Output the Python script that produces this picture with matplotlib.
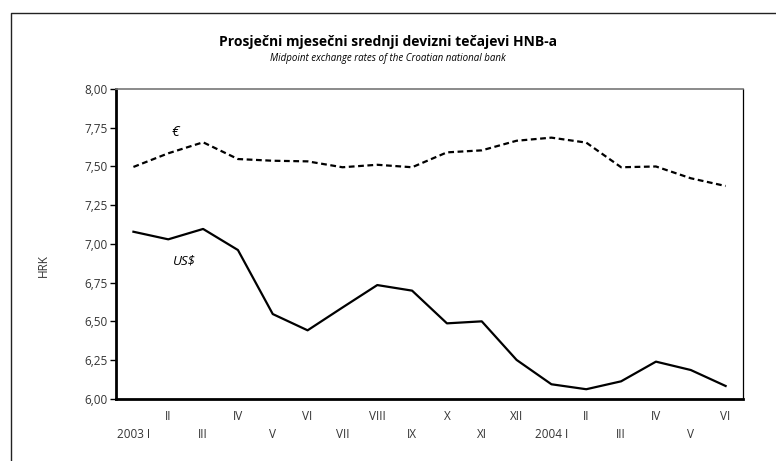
import numpy as np
import matplotlib.pyplot as plt
from matplotlib.lines import Line2D

# Podaci (mjesečni prosjeci, HRK)
months = ["2003 I", "II", "III", "IV", "V", "VI", "VII", "VIII", "IX",
          "X", "XI", "XII", "2004 I", "II", "III", "IV", "V", "VI"]
eur = [7.497, 7.585, 7.656, 7.548, 7.537, 7.533, 7.495, 7.511, 7.495,
       7.591, 7.604, 7.666, 7.686, 7.654, 7.495, 7.500, 7.424, 7.374]
usd = [7.079, 7.030, 7.097, 6.961, 6.548, 6.443, 6.590, 6.735, 6.699,
       6.488, 6.501, 6.252, 6.095, 6.063, 6.114, 6.241, 6.187, 6.084]
yticks = [6.00, 6.25, 6.50, 6.75, 7.00, 7.25, 7.50, 7.75, 8.00]

plt.rcParams['font.family'] = ['Open Sans', 'DejaVu Sans']

fig = plt.figure(figsize=(7.76, 4.61), dpi=100)
ax = fig.add_axes([0.1495, 0.1345, 0.808, 0.6725])

# okvir: lijeva i gornja linija
x0, y0 = 11 / 776, 1 - 13 / 461
fig.lines.append(Line2D([x0, x0, 1.0], [0.0, y0, y0], transform=fig.transFigure,
                        color='#222222', linewidth=1.0))

x = np.arange(len(months))
ax.plot(x, eur, color='black', linewidth=1.6, linestyle=(0, (2.6, 1.6)))
ax.plot(x, usd, color='black', linewidth=1.6)

ax.set_xlim(-0.5, 17.5)
ax.set_ylim(6.0, 8.0)
ax.set_yticks(yticks)
ax.set_yticklabels([f"{v:.2f}".replace('.', ',') for v in yticks])

# mjeseci u dva reda
ax.set_xticks(x[1::2])
ax.set_xticklabels(months[1::2])
ax.set_xticks(x[0::2], minor=True)
ax.set_xticklabels(months[0::2], minor=True)
ax.tick_params(axis='x', which='major', length=0, pad=8, labelsize=8.5, labelcolor='#333333')
ax.tick_params(axis='x', which='minor', length=0, pad=21, labelsize=8.5, labelcolor='#333333')
ax.tick_params(axis='y', length=4, width=1.0, pad=2, labelsize=8.5, labelcolor='#333333')

for s in ['left', 'bottom']:
    ax.spines[s].set_linewidth(2.0)
    ax.spines[s].set_color('black')
ax.spines['top'].set_linewidth(1.2)
ax.spines['top'].set_color('#777777')
ax.spines['right'].set_linewidth(0.9)
ax.spines['right'].set_color('black')

ax.text(1.2, 7.72, '€', fontsize=10, style='italic', ha='center', va='center')
ax.text(1.45, 6.89, 'US$', fontsize=9.5, style='italic', ha='center', va='center')
ax.set_ylabel('HRK', fontsize=8.5, color='#333333', labelpad=24)
ax.yaxis.set_label_coords(-0.105, 0.432)

fig.text(0.5, 0.908, 'Prosječni mjesečni srednji devizni tečajevi HNB-a',
         ha='center', va='center', fontsize=10, fontweight='bold')
fig.text(0.5, 0.873, 'Midpoint exchange rates of the Croatian national bank',
         ha='center', va='center', fontsize=7, style='italic')

fig.savefig('out.png', dpi=100)
